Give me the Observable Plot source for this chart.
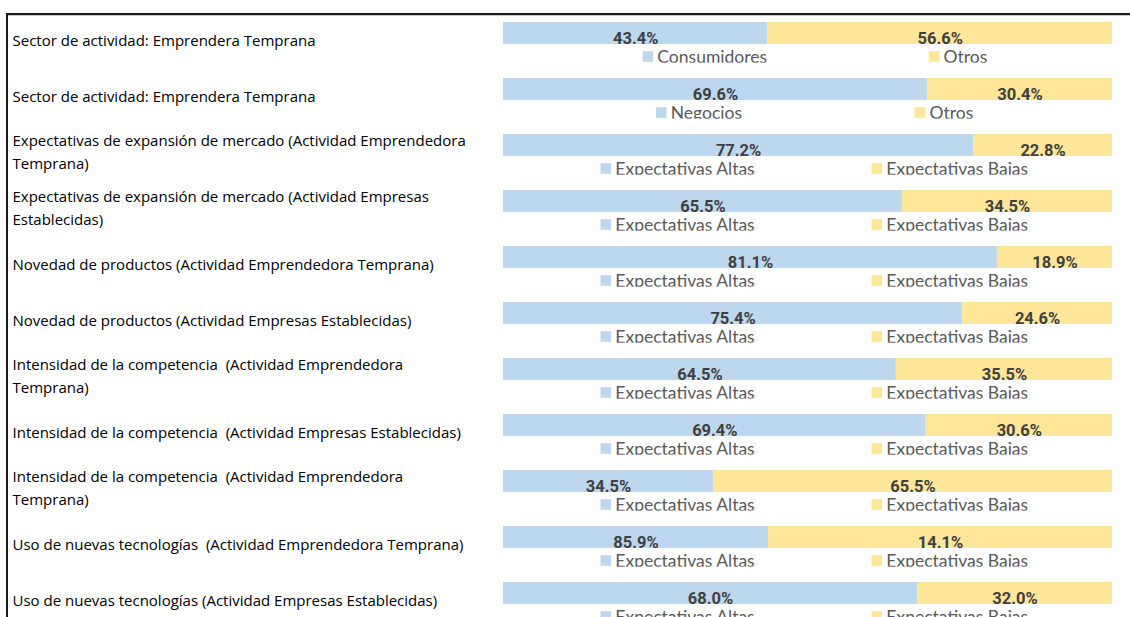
<!DOCTYPE html>
<html><head><meta charset="utf-8">
<script src="https://cdn.jsdelivr.net/npm/d3@7"></script>
<script src="https://cdn.jsdelivr.net/npm/@observablehq/plot@0.6"></script>
<style>
html,body{margin:0;padding:0;background:#fff;}
#wrap{position:relative;width:1130px;height:617px;overflow:hidden;}
#frame{position:absolute;left:6px;top:13px;right:-10px;bottom:-10px;border-top:2px solid #1a1a1a;border-left:2px solid #1a1a1a;box-shadow:inset 0 1px 0 #c8c8c8;pointer-events:none;}
svg text{white-space:pre;}
</style></head><body><div id="wrap"><div id="frame"></div></div>
<script>
// ---- data ----
const categorias = [
  "Sector de actividad: Emprendera Temprana",
  "Sector de actividad: Emprendera Temprana",
  "Expectativas de expansión de mercado (Actividad Emprendedora Temprana)",
  "Expectativas de expansión de mercado (Actividad Empresas Establecidas)",
  "Novedad de productos (Actividad Emprendedora Temprana)",
  "Novedad de productos (Actividad Empresas Establecidas)",
  "Intensidad de la competencia  (Actividad Emprendedora Temprana)",
  "Intensidad de la competencia  (Actividad Empresas Establecidas)",
  "Intensidad de la competencia  (Actividad Emprendedora Temprana)",
  "Uso de nuevas tecnologías  (Actividad Emprendedora Temprana)",
  "Uso de nuevas tecnologías (Actividad Empresas Establecidas)"
];
const serieA = ["Consumidores","Negocios","Expectativas Altas","Expectativas Altas","Expectativas Altas","Expectativas Altas","Expectativas Altas","Expectativas Altas","Expectativas Altas","Expectativas Altas","Expectativas Altas"];
const serieB = ["Otros","Otros","Expectativas Bajas","Expectativas Bajas","Expectativas Bajas","Expectativas Bajas","Expectativas Bajas","Expectativas Bajas","Expectativas Bajas","Expectativas Bajas","Expectativas Bajas"];
// printed percentages
const valoresA = [43.4, 69.6, 77.2, 65.5, 81.1, 75.4, 64.5, 69.4, 34.5, 85.9, 68.0];
const valoresB = [56.6, 30.4, 22.8, 34.5, 18.9, 24.6, 35.5, 30.6, 65.5, 14.1, 32.0];
// share of the bar drawn blue (row 10 is drawn at ~43.5%)
const barraA = [43.4, 69.6, 77.2, 65.5, 81.1, 75.4, 64.5, 69.4, 34.5, 43.5, 68.0];

// ---- layout (not data) ----
const legendPos = [[22.8, 69.8], [25.0, 67.5]].concat(d3.range(9).map(() => [15.9, 60.4]));
const azul = "#BDD7EE", amarillo = "#FFE699";

const ctx = document.createElement("canvas").getContext("2d");
ctx.font = "15px 'Open Sans'";
function wrap(s, max) {
  const parts = s.split(/(\s+)/);
  const lines = [];
  let cur = "";
  for (let k = 0; k < parts.length; k += 2) {
    const word = parts[k];
    const sep = k > 0 ? parts[k - 1] : "";
    const cand = cur === "" ? word : cur + sep + word;
    if (cur !== "" && ctx.measureText(cand).width > max) { lines.push(cur); cur = word; }
    else cur = cand;
  }
  lines.push(cur);
  return lines.join("\n");
}

const idx = d3.range(categorias.length);
const filas = idx.map(i => ({i, label: wrap(categorias[i], 470)}));
const segs = idx.flatMap(i => [
  {i, serie: "A", x1: 0, x2: barraA[i], pct: valoresA[i]},
  {i, serie: "B", x1: barraA[i], x2: 100, pct: valoresB[i]}
]);
const leyenda = idx.flatMap(i => [
  {i, serie: "A", pos: legendPos[i][0], label: serieA[i]},
  {i, serie: "B", pos: legendPos[i][1], label: serieB[i]}
]);

const step = 56.04, pad = 0.6;
const r0 = 33 - step * (1 + pad) / 2;
const r1 = r0 + step * (idx.length + pad);

const chart = Plot.plot({
  width: 1130, height: 617, margin: 0,
  style: {background: "transparent", fontFamily: "'Open Sans', sans-serif", overflow: "hidden"},
  x: {domain: [0, 100], range: [503, 1112], axis: null},
  y: {type: "band", domain: idx, range: [r0, r1], padding: pad, axis: null},
  color: {domain: ["A", "B"], range: [azul, amarillo]},
  marks: [
    Plot.text(filas, {frameAnchor: "left", y: "i", text: "label", dx: 12, dy: 5, textAnchor: "start", lineAnchor: "middle", lineHeight: 1.5, fontSize: 15, fontFamily: "'Open Sans'", fill: "#000"}),
    Plot.barX(segs, {x1: "x1", x2: "x2", y: "i", fill: "serie"}),
    Plot.text(segs, {x: d => (d.x1 + d.x2) / 2, y: "i", text: d => d.pct.toFixed(1) + "%", dy: 10, lineAnchor: "bottom", fontWeight: "bold", fontSize: 16.5, fontFamily: "Roboto", fill: "#404040", ariaLabel: "pct"}),
    Plot.dot(leyenda, {x: "pos", y: "i", symbol: "square", r: 6, fill: "serie", dx: 5.5, dy: 23}),
    Plot.text(leyenda, {x: "pos", y: "i", text: "label", dx: 15, dy: 29, textAnchor: "start", lineAnchor: "bottom", fontSize: 17.5, fontFamily: "Lato", fill: "#595959"}),
    Plot.barX(idx, {x1: 10, x2: 95, y: d => d, fill: "white", dy: 40.7, insetBottom: 11.4})
  ]
});
chart.querySelectorAll('g[aria-label="pct"] text').forEach(t => {
  t.setAttribute("transform", (t.getAttribute("transform") || "") + " scale(0.88,1)");
});
document.getElementById("wrap").insertBefore(chart, document.getElementById("frame"));
</script></body></html>
